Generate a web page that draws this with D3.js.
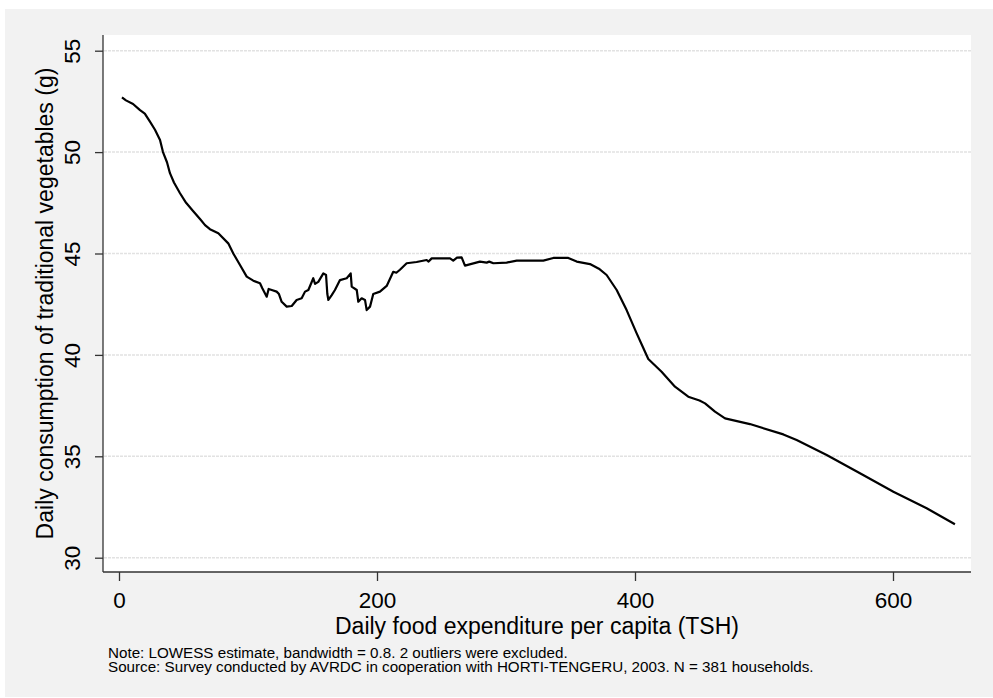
<!DOCTYPE html>
<html lang="en">
  <head>
    <meta charset="UTF-8" />
    <title>Traditional vegetables vs food expenditure</title>
    <style>
      html, body { margin: 0; padding: 0; background: #ffffff; }
      svg { display: block; }
    </style>
  </head>
  <body>
    <div id="chart"></div>

    <script src="https://d3js.org/d3.v7.min.js"></script>
    <script>

      // daily food expenditure per capita (TSH)
      const expenditure = [
        2.3, 5.4, 10.9, 16.3, 20, 24, 27.9, 31.8, 34.1, 37.2, 39.5, 42.6, 47.3, 52, 57.4, 62.8,
        66.7, 70.5, 77, 84.7, 88.6, 93.8, 99, 104.1, 109.3, 111, 114.5, 116, 118.4, 122.2, 124,
        126.1, 130, 133.9, 137.7, 141.6, 144.2, 146.8, 150.6, 152, 154.5, 158.4, 160.5, 161.5,
        162.3, 164.9, 167.4, 171.3, 176.5, 179.6, 180.4, 184.3, 185.5, 188.1, 190.7, 192, 194.6,
        197.1, 202.3, 207.5, 212.6, 215, 217.8, 223, 230.7, 238.5, 240, 242.4, 256.6, 259.1, 262,
        265.6, 268.2, 279.8, 285, 287, 290.2, 300.5, 308.3, 328.9, 336.7, 348.3, 354.8, 365.1,
        372, 378, 385.8, 393.5, 401.3, 406, 410.3, 420.6, 431, 441.3, 450, 454.3, 462, 469.8,
        489.1, 515, 525.3, 548.6, 574.4, 600.3, 626.1, 648
      ];

      // LOWESS estimate of daily consumption (g)
      const consumption = [
        52.7, 52.55, 52.37, 52.07, 51.9, 51.5, 51.1, 50.6, 50.0, 49.5, 48.96, 48.5, 47.97, 47.5, 47.1, 46.7,
        46.4, 46.2, 46.0, 45.5, 45.0, 44.43, 43.86, 43.66, 43.53, 43.3, 42.87, 43.25, 43.2, 43.12, 43.0,
        42.62, 42.38, 42.41, 42.71, 42.79, 43.12, 43.2, 43.78, 43.5, 43.6, 44.02, 43.94, 43.0,
        42.71, 42.95, 43.2, 43.69, 43.78, 44.02, 43.37, 43.2, 42.62, 42.79, 42.71, 42.21, 42.38,
        43.0, 43.12, 43.4, 44.1, 44.05, 44.2, 44.52, 44.58, 44.68, 44.6, 44.76, 44.76, 44.65, 44.8,
        44.81, 44.4, 44.6, 44.55, 44.6, 44.52, 44.55, 44.65, 44.65, 44.78, 44.78, 44.6, 44.48,
        44.25, 43.94, 43.2, 42.21, 41.06, 40.4, 39.8, 39.17, 38.43, 37.94, 37.75, 37.61, 37.2, 36.87,
        36.59, 36.08, 35.8, 35.06, 34.16, 33.25, 32.44, 31.65
      ];

      const xTicks = [0, 200, 400, 600];
      const yTicks = [30, 35, 40, 45, 50, 55];

      const xTitle = "Daily food expenditure per capita (TSH)";
      const yTitle = "Daily consumption of traditional vegetables (g)";
      const notes = [
        "Note: LOWESS estimate, bandwidth = 0.8. 2 outliers were excluded.",
        "Source: Survey conducted by AVRDC in cooperation with HORTI-TENGERU, 2003.  N = 381 households."
      ];

      const width = 993;
      const height = 698;
      const font = "'Liberation Sans', Arial, sans-serif";

      // plot region
      const plot = { left: 103, top: 35, right: 971, bottom: 572 };

      const x = d3.scaleLinear([0, 600], [119, 893]);
      const y = d3.scaleLinear([30, 55], [557.7, 50.7]);

      const svg = d3.select("#chart").append("svg")
          .attr("width", width)
          .attr("height", height)
          .attr("viewBox", [0, 0, width, height])
          .style("font-family", font);

      // outer grey background
      svg.append("rect")
          .attr("x", 5).attr("y", 9)
          .attr("width", width - 5).attr("height", 688)
          .attr("fill", "#f2f2f2");

      svg.append("rect")
          .attr("x", plot.left).attr("y", plot.top)
          .attr("width", plot.right - plot.left).attr("height", plot.bottom - plot.top)
          .attr("fill", "#ffffff");

      // horizontal grid lines
      svg.append("g")
        .selectAll("line")
        .data(yTicks)
        .join("line")
          .attr("x1", plot.left + 1)
          .attr("x2", plot.right)
          .attr("y1", d => y(d))
          .attr("y2", d => y(d))
          .attr("stroke", "#e2e2e2")
          .attr("stroke-width", 1.5)
          .attr("stroke-dasharray", "3,1");

      // y axis
      svg.append("g")
          .attr("transform", `translate(${plot.left},0)`)
          .call(d3.axisLeft(y).tickValues(yTicks).tickSize(8).tickSizeOuter(0))
          .call(g => g.select(".domain").attr("d", `M0,${plot.top}V${plot.bottom}`))
          .call(g => g.selectAll("line, path").attr("stroke", "#333333").attr("stroke-width", 1.3))
          .call(g => g.selectAll("text")
              .attr("transform", "rotate(-90)")
              .attr("x", 0)
              .attr("y", -23)
              .attr("dy", 0)
              .attr("text-anchor", "middle")
              .attr("fill", "#000000")
              .style("font-size", "22.5px")
              .style("font-family", font));

      // x axis
      svg.append("g")
          .attr("transform", `translate(0,${plot.bottom})`)
          .call(d3.axisBottom(x).tickValues(xTicks).tickSize(9).tickSizeOuter(0))
          .call(g => g.select(".domain").attr("d", `M${plot.left},0H${plot.right}`))
          .call(g => g.selectAll("line, path").attr("stroke", "#333333").attr("stroke-width", 1.3))
          .call(g => g.selectAll("text")
              .attr("y", 35.5)
              .attr("dy", 0)
              .attr("fill", "#000000")
              .style("font-size", "22.5px")
              .style("font-family", font));

      // axis titles
      svg.append("text")
          .attr("x", (plot.left + plot.right) / 2)
          .attr("y", 633.5)
          .attr("text-anchor", "middle")
          .style("font-size", "23px")
          .text(xTitle);

      svg.append("text")
          .attr("transform", `translate(53,${(plot.top + plot.bottom) / 2}) rotate(-90)`)
          .attr("text-anchor", "middle")
          .style("font-size", "23px")
          .text(yTitle);

      // the LOWESS line
      const line = d3.line()
          .x(i => x(expenditure[i]))
          .y(i => y(consumption[i]));

      svg.append("path")
          .datum(d3.range(expenditure.length))
          .attr("fill", "none")
          .attr("stroke", "#000000")
          .attr("stroke-width", 2.2)
          .attr("stroke-linejoin", "round")
          .attr("d", line);

      // notes, one text block with a line each
      svg.append("text")
          .attr("x", 108)
          .attr("y", 658.3)
          .style("font-size", "15.2px")
        .selectAll("tspan")
        .data(notes)
        .join("tspan")
          .attr("x", 108)
          .attr("dy", (d, i) => i === 0 ? 0 : 13.4)
          .text(d => d);

    </script>
  </body>
</html>
